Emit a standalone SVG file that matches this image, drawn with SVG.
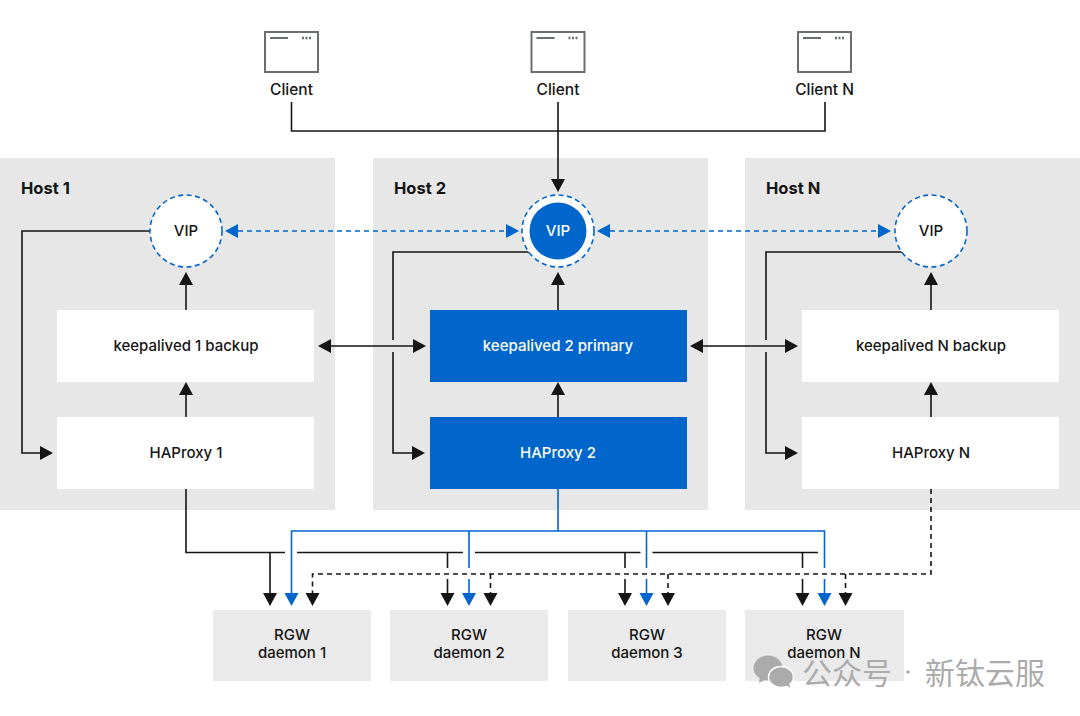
<svg xmlns="http://www.w3.org/2000/svg" width="1080" height="716" viewBox="0 0 1080 716">
<style>
text{font-family:"Inter","Liberation Sans","Noto Sans CJK SC",sans-serif;font-size:15px;font-weight:500;fill:#151515;text-anchor:middle}
.h{font-size:16.500px;font-weight:700;text-anchor:start}
.w{fill:#fff}
.host{fill:#e7e7e7}
.box{fill:#fff}
.pri{fill:#0066cc}
.rgw{fill:#eaeaea}
.icon{fill:#fff;stroke:#6a6e73;stroke-width:2}
.k{fill:none;stroke:#151515;stroke-width:1.6}
.kd{fill:none;stroke:#151515;stroke-width:1.6;stroke-dasharray:5 4}
.b{fill:none;stroke:#0066cc;stroke-width:1.6}
.bd{fill:none;stroke:#0066cc;stroke-width:1.5;stroke-dasharray:5 4}
.ring{fill:#fff;stroke:#0066cc;stroke-width:1.6;stroke-dasharray:5 3.5}
.ak{fill:#151515}
.ab{fill:#0066cc}
.wm{font-size:30px;font-weight:400;fill:#ababab;text-anchor:start;font-family:"Noto Sans CJK SC",sans-serif}
</style>
<defs>
<g id="client"><rect class="icon" x="265" y="32" width="53" height="40"/><path d="M270 38h18" stroke="#6a6e73" stroke-width="2"/><path d="M302 38h2M305.500 38h2M309 38h2" stroke="#6a6e73" stroke-width="2.500"/></g>
<path id="d" d="M-7 0H7L0 13Z"/>
<path id="u" d="M-7 0H7L0 -13Z"/>
<path id="r" d="M0 -7V7L13 0Z"/>
<path id="l" d="M0 -7V7L-13 0Z"/>
</defs>
<g id="host-1"><rect class="host" x="0" y="158" width="335" height="352"/><text class="h" x="21" y="194">Host 1</text></g>
<g id="host-2"><rect class="host" x="373" y="158" width="335" height="352"/><text class="h" x="394" y="194">Host 2</text></g>
<g id="host-n"><rect class="host" x="745" y="158" width="335" height="352"/><text class="h" x="766" y="194">Host N</text></g>
<g id="connectors">
<path class="k" d="M291.500 102V131H825V102M558 102V181"/>
<use href="#d" class="ak" x="558" y="179"/>
<path class="bd" d="M238 231H506M610 231H878"/>
<use href="#l" class="ab" x="238" y="231"/><use href="#r" class="ab" x="506" y="231"/><use href="#l" class="ab" x="610" y="231"/><use href="#r" class="ab" x="878" y="231"/>
<path class="k" d="M152 231H22V453H41M530 252H393V340M393 352V453H413M903 252H766V340M766 352V453H786"/>
<use href="#r" class="ak" x="40" y="453"/><use href="#r" class="ak" x="412" y="453"/><use href="#r" class="ak" x="785" y="453"/>
<path class="k" d="M186 310V284M186 417V394M558 310V284M558 417V394M931 310V284M931 417V394"/>
<use href="#u" class="ak" x="186" y="285"/><use href="#u" class="ak" x="186" y="395"/><use href="#u" class="ak" x="558" y="285"/><use href="#u" class="ak" x="558" y="395"/><use href="#u" class="ak" x="931" y="285"/><use href="#u" class="ak" x="931" y="395"/>
<path class="k" d="M330 346H414M702 346H786"/>
<use href="#l" class="ak" x="331" y="346"/><use href="#r" class="ak" x="413" y="346"/><use href="#l" class="ak" x="703" y="346"/><use href="#r" class="ak" x="785" y="346"/>
<path class="k" d="M186 489V552.500H285M297 552.500H463M475 552.500H640.500M652.500 552.500H818M270 552.500V594M447.500 552.500V568M447.500 579V594M625 552.500V568M625 579V594M802.500 552.500V568M802.500 579V594"/>
<path class="b" d="M558 489V531M291.500 594V531H824.500V568M469 531V568M469 579V594M646.500 531V568M646.500 579V594M824.500 579V594"/>
<path class="kd" d="M931 489V574H312.500V594M490.500 574V594M668 574V594M845.500 574V594"/>
<use href="#d" class="ak" x="270" y="593"/><use href="#d" class="ab" x="291.500" y="593"/><use href="#d" class="ak" x="312.500" y="593"/>
<use href="#d" class="ak" x="447.500" y="593"/><use href="#d" class="ab" x="469" y="593"/><use href="#d" class="ak" x="490.500" y="593"/>
<use href="#d" class="ak" x="625" y="593"/><use href="#d" class="ab" x="646.500" y="593"/><use href="#d" class="ak" x="668" y="593"/>
<use href="#d" class="ak" x="802.500" y="593"/><use href="#d" class="ab" x="824.500" y="593"/><use href="#d" class="ak" x="845.500" y="593"/>
</g>
<g id="client-1"><use href="#client"/><text x="291.500" y="95" style="font-size:15.500px">Client</text></g>
<g id="client-2"><use href="#client" x="266.500"/><text x="558" y="95" style="font-size:15.500px">Client</text></g>
<g id="client-n"><use href="#client" x="533"/><text x="824.500" y="95" style="font-size:15.500px">Client N</text></g>
<g id="vip-1"><circle class="ring" cx="186" cy="231" r="36"/><text x="186" y="236">VIP</text></g>
<g id="vip-2"><circle class="ring" cx="558" cy="231" r="36"/><circle class="pri" cx="558" cy="231" r="28.500"/><text class="w" x="558" y="236">VIP</text></g>
<g id="vip-n"><circle class="ring" cx="931" cy="231" r="36"/><text x="931" y="236">VIP</text></g>
<g id="keepalived-1"><rect class="box" x="57" y="310" width="257" height="72"/><text x="186" y="351">keepalived 1 backup</text></g>
<g id="keepalived-2"><rect class="pri" x="430" y="310" width="257" height="72"/><text class="w" x="558" y="351">keepalived 2 primary</text></g>
<g id="keepalived-n"><rect class="box" x="802" y="310" width="257" height="72"/><text x="931" y="351">keepalived N backup</text></g>
<g id="haproxy-1"><rect class="box" x="57" y="417" width="257" height="72"/><text x="186" y="458">HAProxy 1</text></g>
<g id="haproxy-2"><rect class="pri" x="430" y="417" width="257" height="72"/><text class="w" x="558" y="458">HAProxy 2</text></g>
<g id="haproxy-n"><rect class="box" x="802" y="417" width="257" height="72"/><text x="931" y="458">HAProxy N</text></g>
<g id="rgw-1"><rect class="rgw" x="213" y="610" width="158" height="71"/><text x="292" y="640">RGW</text><text x="292" y="658">daemon 1</text></g>
<g id="rgw-2"><rect class="rgw" x="390" y="610" width="158" height="71"/><text x="469" y="640">RGW</text><text x="469" y="658">daemon 2</text></g>
<g id="rgw-3"><rect class="rgw" x="568" y="610" width="158" height="71"/><text x="647" y="640">RGW</text><text x="647" y="658">daemon 3</text></g>
<g id="rgw-n"><rect class="rgw" x="745" y="610" width="159" height="71"/><text x="824" y="640">RGW</text><text x="824" y="658">daemon N</text></g>
<g id="watermark">
<ellipse cx="768" cy="668" rx="14.500" ry="12.500" fill="#ababab"/><path d="M760 676l-1 7 8-4Z" fill="#ababab"/>
<ellipse cx="781" cy="677" rx="12.500" ry="10.500" fill="#ababab" stroke="#fff" stroke-width="1.500"/><path d="M786 685l4 3-1-6Z" fill="#ababab"/>
<text class="wm" x="802" y="684">公众号</text><circle cx="908" cy="672" r="1.800" fill="#ababab"/><text class="wm" x="925" y="684">新钛云服</text>
</g>
</svg>
